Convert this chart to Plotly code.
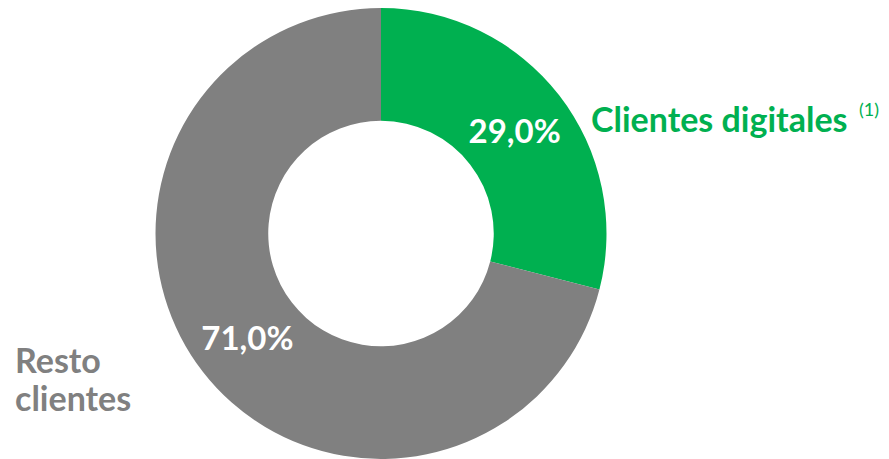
import plotly.graph_objects as go

labels = ["Clientes digitales", "Resto clientes"]
values = [29.0, 71.0]
colors = ["#00B050", "#808080"]

FONT = "Lato"
W, H = 881, 451   # page body has an 8px margin
OFF = 8


def px(x):
    return (x - OFF) / W


def py(y):
    return 1 - (y - OFF) / H


fig = go.Figure(go.Pie(
    labels=labels,
    values=values,
    sort=False,
    direction="clockwise",
    rotation=0,
    hole=0.5,
    marker=dict(colors=colors, line=dict(width=0)),
    textinfo="percent",
    texttemplate="%{percent:.1%}",
    textposition="inside",
    insidetextorientation="horizontal",
    textfont=dict(family=FONT, size=33, color="white", weight="bold"),
    domain=dict(x=[px(155), px(607)], y=[0.0, 1.0]),
    showlegend=False,
    hoverinfo="label+percent",
))

fig.add_annotation(x=px(589), y=py(118), xref="paper", yref="paper",
                   xanchor="left", yanchor="middle", showarrow=False,
                   text="<b>Clientes digitales</b>",
                   font=dict(family=FONT, size=34, color="#00B050"))
fig.add_annotation(x=px(857), y=py(109), xref="paper", yref="paper",
                   xanchor="left", yanchor="middle", showarrow=False,
                   text="(1)",
                   font=dict(family=FONT, size=18, color="#00B050"))
fig.add_annotation(x=px(13), y=py(359), xref="paper", yref="paper",
                   xanchor="left", yanchor="middle", showarrow=False, align="left",
                   text="<b>Resto</b>",
                   font=dict(family=FONT, size=34, color="#808080"))
fig.add_annotation(x=px(13), y=py(397), xref="paper", yref="paper",
                   xanchor="left", yanchor="middle", showarrow=False, align="left",
                   text="<b>clientes</b>",
                   font=dict(family=FONT, size=34, color="#808080"))

fig.update_layout(
    width=W, height=H,
    margin=dict(l=0, r=0, t=0, b=0),
    paper_bgcolor="white", plot_bgcolor="white",
    separators=",.",
)

fig.write_html("out.html")
